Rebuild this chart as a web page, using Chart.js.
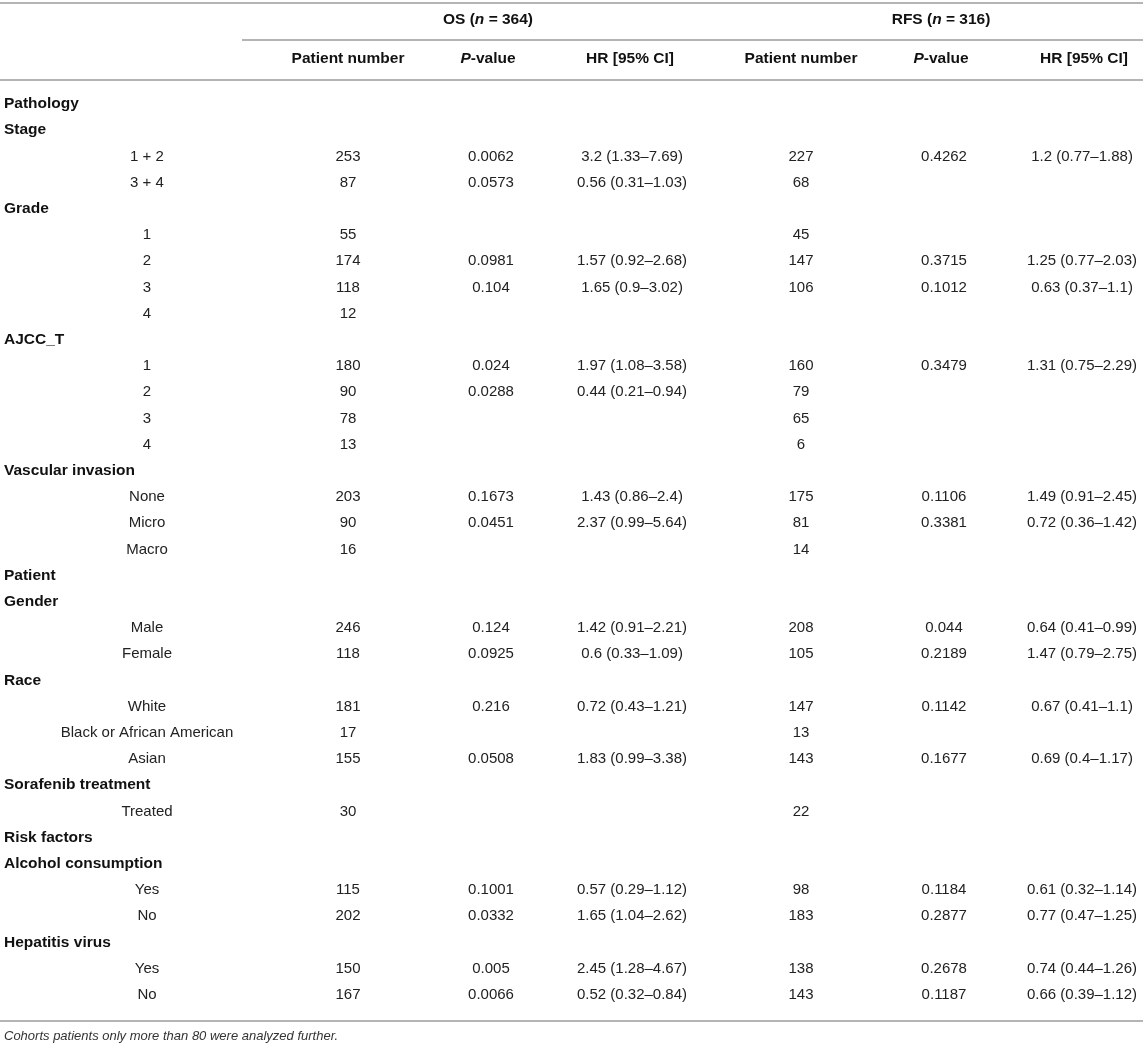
<!DOCTYPE html>
<html>
<head>
<meta charset="utf-8">
<script src="https://cdn.jsdelivr.net/npm/chart.js@4.4.1/dist/chart.umd.min.js"></script>
<style>
  html, body { margin: 0; padding: 0; background: #fff; }
  canvas { display: block; }
</style>
</head>
<body>
<canvas id="js-table" width="1143" height="1044"></canvas>
<script>
var _ = null;

// row labels, bold ones are the group headings
var rowLabels = ['Pathology', 'Stage', '1 + 2', '3 + 4', 'Grade', '1', '2', '3', '4',
  'AJCC_T', '1', '2', '3', '4', 'Vascular invasion', 'None', 'Micro', 'Macro',
  'Patient', 'Gender', 'Male', 'Female', 'Race', 'White', 'Black or African American', 'Asian',
  'Sorafenib treatment', 'Treated', 'Risk factors', 'Alcohol consumption', 'Yes', 'No',
  'Hepatitis virus', 'Yes', 'No'];
var headingRows = [0, 1, 4, 9, 14, 18, 19, 22, 26, 28, 29, 32];

// OS (n = 364)
var osN  = [_,_,253,87,_,55,174,118,12,_,180,90,78,13,_,203,90,16,_,_,246,118,_,181,17,155,_,30,_,_,115,202,_,150,167];
var osP  = [_,_,0.0062,0.0573,_,_,0.0981,0.104,_,_,0.024,0.0288,_,_,_,0.1673,0.0451,_,_,_,0.124,0.0925,_,0.216,_,0.0508,_,_,_,_,0.1001,0.0332,_,0.005,0.0066];
var osHR = [_,_,3.2,0.56,_,_,1.57,1.65,_,_,1.97,0.44,_,_,_,1.43,2.37,_,_,_,1.42,0.6,_,0.72,_,1.83,_,_,_,_,0.57,1.65,_,2.45,0.52];
var osLo = [_,_,1.33,0.31,_,_,0.92,0.9,_,_,1.08,0.21,_,_,_,0.86,0.99,_,_,_,0.91,0.33,_,0.43,_,0.99,_,_,_,_,0.29,1.04,_,1.28,0.32];
var osHi = [_,_,7.69,1.03,_,_,2.68,3.02,_,_,3.58,0.94,_,_,_,2.4,5.64,_,_,_,2.21,1.09,_,1.21,_,3.38,_,_,_,_,1.12,2.62,_,4.67,0.84];

// RFS (n = 316)
var rfsN  = [_,_,227,68,_,45,147,106,_,_,160,79,65,6,_,175,81,14,_,_,208,105,_,147,13,143,_,22,_,_,98,183,_,138,143];
var rfsP  = [_,_,0.4262,_,_,_,0.3715,0.1012,_,_,0.3479,_,_,_,_,0.1106,0.3381,_,_,_,0.044,0.2189,_,0.1142,_,0.1677,_,_,_,_,0.1184,0.2877,_,0.2678,0.1187];
var rfsHR = [_,_,1.2,_,_,_,1.25,0.63,_,_,1.31,_,_,_,_,1.49,0.72,_,_,_,0.64,1.47,_,0.67,_,0.69,_,_,_,_,0.61,0.77,_,0.74,0.66];
var rfsLo = [_,_,0.77,_,_,_,0.77,0.37,_,_,0.75,_,_,_,_,0.91,0.36,_,_,_,0.41,0.79,_,0.41,_,0.4,_,_,_,_,0.32,0.47,_,0.44,0.39];
var rfsHi = [_,_,1.88,_,_,_,2.03,1.1,_,_,2.29,_,_,_,_,2.45,1.42,_,_,_,0.99,2.75,_,1.1,_,1.17,_,_,_,_,1.14,1.25,_,1.26,1.12];

var cohorts = [{name: 'OS', n: 364}, {name: 'RFS', n: 316}];
var colHeads = ['Patient number', 'P-value', 'HR [95% CI]'];
var footnote = 'Cohorts patients only more than 80 were analyzed further.';

// layout (x in page pixels, y in row units)
var colX = [147, 348, 491, 632, 801, 944, 1082];
var headX = [348, 488, 630, 801, 941, 1084];
var headingX = 4;
var rowTop = 104, rowStep = 26.2;
var yRow = function(px){ return (px - rowTop) / rowStep; };
var FONT = '"Liberation Sans", Arial, Helvetica, sans-serif';
var BOLD = 'bold 15.5px ' + FONT;

function hrText(hr, lo, hi){ return hr + ' (' + lo + '\u2013' + hi + ')'; }

function cells(values, col, fmt){
  var pts = [];
  values.forEach(function(v, i){
    if (v === null) return;
    pts.push({x: colX[col], y: i, t: fmt ? fmt(v, i) : String(v)});
  });
  return pts;
}

var labelPts = rowLabels.map(function(l, i){
  var head = headingRows.indexOf(i) >= 0;
  return {x: head ? headingX : colX[0], y: i, t: l, bold: head, left: head};
});

var headPts = [];
cohorts.forEach(function(c, k){
  headPts.push({x: headX[1 + 3 * k], y: yRow(20), rich: [[c.name + ' (', 0], ['n', 1], [' = ' + c.n + ')', 0]]});
  colHeads.forEach(function(h, j){
    var rich = h === 'P-value' ? [['P', 1], ['-value', 0]] : [[h, 0]];
    headPts.push({x: headX[3 * k + j], y: yRow(59), rich: rich});
  });
});

function textSet(data){ return {type: 'scatter', data: data, pointRadius: 0, isText: true}; }
function rule(x0, x1, py){
  return {type: 'line', data: [{x: x0, y: yRow(py)}, {x: x1, y: yRow(py)}],
    borderColor: '#b4b4b4', borderWidth: 2, pointRadius: 0, fill: false};
}

var textPlugin = {
  id: 'cellText',
  afterDatasetsDraw: function(chart){
    var ctx = chart.ctx;
    ctx.save();
    ctx.textBaseline = 'middle';
    chart.data.datasets.forEach(function(ds, di){
      if (!ds.isText) return;
      var meta = chart.getDatasetMeta(di);
      meta.data.forEach(function(el, i){
        var p = ds.data[i];
        if (p.rich) {
          var w = 0;
          p.rich.forEach(function(s){
            ctx.font = (s[1] ? 'italic ' : '') + BOLD;
            w += ctx.measureText(s[0]).width;
          });
          var x = el.x - w / 2;
          ctx.fillStyle = '#111';
          ctx.textAlign = 'left';
          p.rich.forEach(function(s){
            ctx.font = (s[1] ? 'italic ' : '') + BOLD;
            ctx.fillText(s[0], x, el.y);
            x += ctx.measureText(s[0]).width;
          });
        } else if (p.foot) {
          ctx.font = 'italic 13px ' + FONT;
          ctx.fillStyle = '#333';
          ctx.textAlign = 'left';
          ctx.fillText(p.t, el.x, el.y);
        } else {
          ctx.font = p.bold ? BOLD : '15px ' + FONT;
          ctx.fillStyle = p.bold ? '#111' : '#222';
          ctx.textAlign = p.left ? 'left' : 'center';
          ctx.fillText(p.t, el.x, el.y);
        }
      });
    });
    ctx.restore();
  }
};

new Chart(document.getElementById('js-table'), {
  type: 'scatter',
  data: {
    datasets: [
      rule(0, 1143, 3),
      rule(242, 1143, 40),
      rule(0, 1143, 80),
      rule(0, 1143, 1021),
      textSet(headPts),
      textSet(labelPts),
      textSet(cells(osN, 1)),
      textSet(cells(osP, 2)),
      textSet(cells(osHR, 3, function(v, i){ return hrText(v, osLo[i], osHi[i]); })),
      textSet(cells(rfsN, 4)),
      textSet(cells(rfsP, 5)),
      textSet(cells(rfsHR, 6, function(v, i){ return hrText(v, rfsLo[i], rfsHi[i]); })),
      textSet([{x: headingX, y: yRow(1036), t: footnote, foot: true}])
    ]
  },
  options: {
    responsive: false,
    animation: false,
    layout: { padding: 0 },
    plugins: { legend: { display: false }, tooltip: { enabled: false } },
    scales: {
      x: { type: 'linear', display: false, min: 0, max: 1143 },
      y: { type: 'linear', display: false, reverse: true, min: yRow(0), max: yRow(1044) }
    }
  },
  plugins: [textPlugin]
});
</script>
</body>
</html>
